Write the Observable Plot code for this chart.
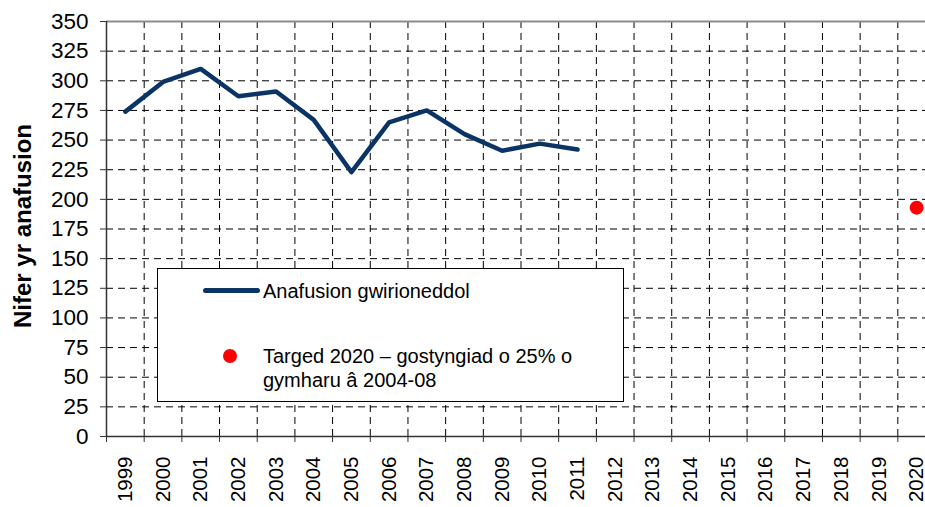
<!DOCTYPE html>
<html>
<head>
<meta charset="utf-8">
<script src="https://cdn.jsdelivr.net/npm/d3@7"></script>
<script src="https://cdn.jsdelivr.net/npm/@observablehq/plot@0.6"></script>
<style>
  html, body { margin: 0; padding: 0; background: #fff; overflow: hidden; }
  #wrap { position: relative; width: 925px; height: 507px; font-family: "Liberation Sans", Arial, sans-serif; }
  #legend { position: absolute; left: 157px; top: 268px; width: 467px; height: 134px; box-sizing: border-box;
            border: 1px solid #000; background: #fff; }
  #legend .sw { position: absolute; left: 45px; top: 19px; width: 57px; height: 5px; border-radius: 3px; background: #0b3466; }
  #legend .dot { position: absolute; left: 65px; top: 80px; width: 14px; height: 14px; border-radius: 50%; background: #ff0000; }
  #legend .t { position: absolute; left: 105px; font-size: 20px; color: #000; line-height: 23.5px; white-space: nowrap; }
</style>
</head>
<body>
<div id="wrap"></div>
<script>
const years = [1999, 2000, 2001, 2002, 2003, 2004, 2005, 2006, 2007, 2008, 2009, 2010, 2011,
               2012, 2013, 2014, 2015, 2016, 2017, 2018, 2019, 2020];
const actualYears = [1999, 2000, 2001, 2002, 2003, 2004, 2005, 2006, 2007, 2008, 2009, 2010, 2011];
const actualValues = [274, 299, 310, 287, 291, 267, 223, 265, 275, 255, 241, 247, 242];
const targetYears = [2020];
const targetValues = [193];
const yTicks = [0, 25, 50, 75, 100, 125, 150, 175, 200, 225, 250, 275, 300, 325, 350];
const yLabel = "Nifer yr anafusion";
const legendLine = "Anafusion gwirioneddol";
const legendTarget1 = "Targed 2020 – gostyngiad o 25% o";
const legendTarget2 = "gymharu â 2004-08";

const actual = actualYears.map((y, i) => ({year: y, value: actualValues[i]}));
const target = targetYears.map((y, i) => ({year: y, value: targetValues[i]}));
const boundaries = [years[0] - 0.5, ...years.map(y => y + 0.5)];
const innerBoundaries = boundaries.slice(1, -1);
const gridY = yTicks.slice(1, -1);

const dash = "7,5";
const plot = Plot.plot({
  width: 925,
  height: 507,
  marginLeft: 106,
  marginTop: 21,
  marginBottom: 71,
  marginRight: 0,
  style: {fontFamily: "'Liberation Sans', Arial, sans-serif", fontSize: "20px", color: "#000", background: "#fff"},
  x: {type: "linear", domain: [boundaries[0], boundaries[boundaries.length - 1]], range: [106, 935]},
  y: {domain: [0, 350]},
  marks: [
    Plot.ruleY(gridY, {stroke: "#000", strokeWidth: 1, strokeDasharray: dash}),
    Plot.ruleX(innerBoundaries, {y1: 0, y2: 350, stroke: "#000", strokeWidth: 1, strokeDasharray: dash}),
    Plot.ruleY([350], {stroke: "#8c8c8c", strokeWidth: 2}),
    Plot.ruleX([boundaries[0]], {stroke: "#333", strokeWidth: 1.5}),
    Plot.ruleY([0], {stroke: "#333", strokeWidth: 1.5}),
    Plot.axisY({ticks: yTicks, tickSize: 6, tickPadding: 12, fontSize: 22.5, label: null, stroke: "#333"}),
    Plot.axisX({ticks: boundaries, tickSize: 6, tickFormat: () => "", label: null, stroke: "#333"}),
    Plot.axisX({ticks: years, tickSize: 0, tickPadding: 20, tickRotate: -90, fontSize: 20.5, tickFormat: d => String(d), label: null}),
    Plot.text([yLabel], {frameAnchor: "left", rotate: -90, dx: -83, dy: -3, textAnchor: "middle", fontWeight: "bold", fontSize: 24, fill: "#000"}),
    Plot.line(actual, {x: "year", y: "value", stroke: "#0b3466", strokeWidth: 4.5, strokeLinejoin: "round"}),
    Plot.dot(target, {x: "year", y: "value", r: 7, fill: "#ff0000", stroke: "none"})
  ]
});
const wrap = document.getElementById("wrap");
wrap.appendChild(plot);

const legend = document.createElement("div");
legend.id = "legend";
legend.innerHTML = `<div class="sw"></div><div class="t" style="top:11px">${legendLine}</div>
<div class="dot"></div><div class="t" style="top:76px">${legendTarget1}<br>${legendTarget2}</div>`;
wrap.appendChild(legend);
</script>
</body>
</html>
